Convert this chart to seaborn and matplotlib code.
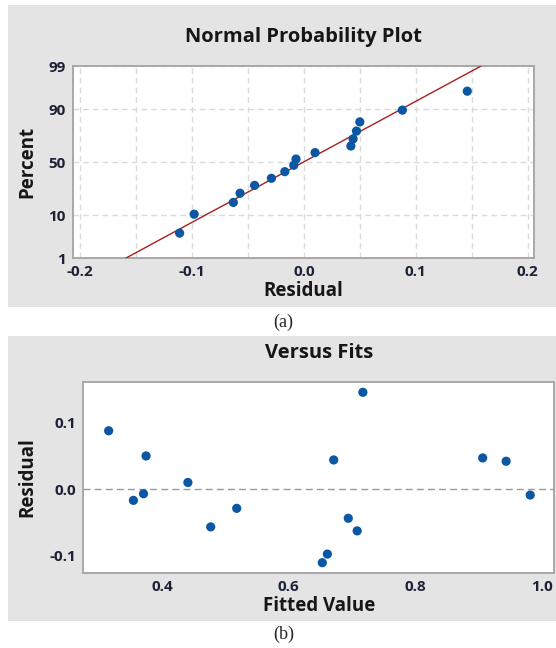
import matplotlib
matplotlib.use("Agg")
import matplotlib.pyplot as plt
import matplotlib.patches as mpatches
import numpy as np
import pandas as pd
import seaborn as sns
from statistics import NormalDist

# residuals vs fitted values
fitted = [0.316, 0.375, 0.355, 0.371, 0.441, 0.477, 0.518, 0.717,
          0.671, 0.661, 0.653, 0.694, 0.708, 0.906, 0.943, 0.981]
residual = [0.088, 0.050, -0.017, -0.007, 0.010, -0.057, -0.029, 0.146,
            0.044, -0.098, -0.111, -0.044, -0.063, 0.047, 0.042, -0.009]

# plotting positions (percent) of the sorted residuals
percent = [4.3, 10.4, 16.5, 22.6, 28.7, 34.8, 40.9, 47.0,
           53.0, 59.1, 65.2, 71.3, 77.4, 83.5, 89.6, 95.7]
percent_ticks = [1, 10, 50, 90, 99]
resid_ticks = [-0.2, -0.1, 0.0, 0.1, 0.2]
fit_ticks = [0.4, 0.6, 0.8, 1.0]
vf_ticks = [-0.1, 0.0, 0.1]

sns.set_style("white")
plt.rcParams['font.family'] = ['Open Sans', 'DejaVu Sans']

BLUE = '#0b57a4'
SPINE = '#a8a8a8'
TICKC = '#1c2236'
PANEL = '#e4e4e4'
TXT = '#161616'

nd = NormalDist()


def pct_to_z(p):
    p = np.clip(np.asarray(p, dtype=float), 1e-4, 100 - 1e-4) / 100
    return np.array([nd.inv_cdf(v) if np.isfinite(v) else np.nan for v in p.ravel()]).reshape(p.shape)


def z_to_pct(z):
    z = np.asarray(z, dtype=float)
    return np.array([nd.cdf(v) * 100 for v in z.ravel()]).reshape(z.shape)


fig = plt.figure(figsize=(5.56, 6.48), dpi=100)
fig.patch.set_facecolor('white')

# gray panel backgrounds
fig.patches.append(mpatches.Rectangle((8 / 556, 1 - 307 / 648), 548 / 556, 302 / 648,
                                      transform=fig.transFigure, facecolor=PANEL, edgecolor='none', zorder=-10))
fig.patches.append(mpatches.Rectangle((8 / 556, 1 - 621 / 648), 548 / 556, 285 / 648,
                                      transform=fig.transFigure, facecolor=PANEL, edgecolor='none', zorder=-10))


def style_axes(ax):
    ax.set_facecolor('white')
    for s in ax.spines.values():
        s.set_color(SPINE)
        s.set_linewidth(1.4)
    ax.tick_params(axis='both', which='major', length=4, width=1, color=SPINE,
                   labelsize=11, labelcolor=TICKC, pad=1)
    for lab in ax.get_xticklabels() + ax.get_yticklabels():
        lab.set_fontweight('bold')


# ---- (a) normal probability plot ----
ax1 = fig.add_axes([72.7 / 556, 1 - 258.3 / 648, 461.3 / 556, 192.3 / 648])
ax1.set_yscale('function', functions=(pct_to_z, z_to_pct))
sorted_res = np.sort(residual)
mu = np.mean(residual)
sd = np.std(residual, ddof=1)
line_df = pd.DataFrame({'x': [mu + sd * nd.inv_cdf(0.01), mu + sd * nd.inv_cdf(0.99)],
                        'y': [1, 99]})
ax1.plot(line_df['x'], line_df['y'], color='#a52020', lw=1.0, zorder=3)
sns.scatterplot(x=sorted_res, y=percent, ax=ax1, color=BLUE, s=44,
                edgecolor='none', zorder=4)
ax1.set_xlim(-0.2065, 0.2056)
ax1.set_ylim(1, 99)
ax1.set_xticks(resid_ticks)
ax1.set_xticklabels([f'{t:.1f}' for t in resid_ticks])
ax1.set_xticks(np.arange(-0.2, 0.201, 0.05), minor=True)
ax1.set_yticks(percent_ticks)
ax1.set_yticklabels([str(t) for t in percent_ticks])
ax1.set_yticks([], minor=True)
ax1.tick_params(axis='x', which='minor', length=0)
ax1.grid(True, which='both', axis='x', color='#dadada', ls=(0, (4, 3)), lw=1)
ax1.grid(True, which='major', axis='y', color='#dadada', ls=(0, (4, 3)), lw=1)
style_axes(ax1)
ax1.set_xlabel('Residual', fontsize=13.5, fontweight='bold', color=TXT, va='center')
ax1.xaxis.set_label_coords(0.5, -0.168)
ax1.set_ylabel('Percent', fontsize=13.5, fontweight='bold', color=TXT, va='center')
ax1.yaxis.set_label_coords(-0.099, 0.5)
ax1.text(0.5, 1.151, 'Normal Probability Plot', transform=ax1.transAxes, ha='center',
         va='center', fontsize=14.5, fontweight='bold', color=TXT)

# ---- (b) versus fits ----
ax2 = fig.add_axes([83.3 / 556, 1 - 573.3 / 648, 471 / 556, 191.6 / 648])
vf = pd.DataFrame({'Fitted Value': fitted, 'Residual': residual})
ax2.axhline(0, color='#9a9a9a', ls=(0, (5, 3)), lw=1, zorder=2)
sns.scatterplot(data=vf, x='Fitted Value', y='Residual', ax=ax2, color=BLUE, s=44,
                edgecolor='none', zorder=4)
ax2.set_xlim(0.276, 1.019)
ax2.set_ylim(-0.127, 0.162)
ax2.set_xticks(fit_ticks)
ax2.set_xticklabels([f'{t:.1f}' for t in fit_ticks])
ax2.set_yticks(vf_ticks)
ax2.set_yticklabels([f'{t:.1f}' for t in vf_ticks])
style_axes(ax2)
ax2.set_xlabel('Fitted Value', fontsize=13.5, fontweight='bold', color=TXT, va='center')
ax2.xaxis.set_label_coords(0.5, -0.171)
ax2.set_ylabel('Residual', fontsize=13.5, fontweight='bold', color=TXT, va='center')
ax2.yaxis.set_label_coords(-0.118, 0.5)
ax2.text(0.5, 1.150, 'Versus Fits', transform=ax2.transAxes, ha='center',
         va='center', fontsize=14.5, fontweight='bold', color=TXT)

# captions
fig.text(283 / 556, 1 - 322 / 648, '(a)', ha='center', va='center',
         fontsize=13, family='Liberation Serif')
fig.text(284 / 556, 1 - 634 / 648, '(b)', ha='center', va='center',
         fontsize=13, family='Liberation Serif')

fig.savefig('out.png', dpi=100, facecolor='white')
